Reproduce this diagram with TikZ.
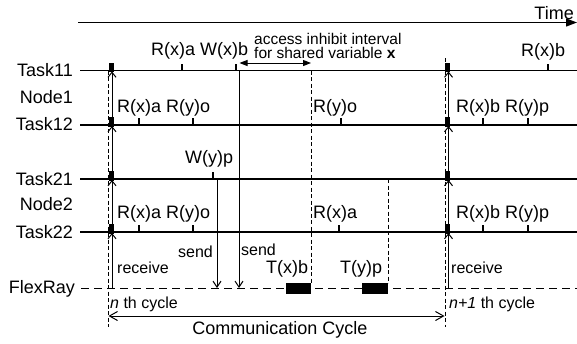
\documentclass[tikz,border=0pt]{standalone}
\usepackage{fontspec}
\setmainfont{Liberation Sans}
\usetikzlibrary{arrows.meta}
\begin{document}
\begin{tikzpicture}[x=1pt,y=-1pt,
  tline/.style={line width=1.6pt},
  tickmark/.style={line width=1.6pt},
  lblbig/.style={font=\fontsize{18}{20}\selectfont, inner sep=0pt},
  lblsmall/.style={font=\fontsize{16}{18}\selectfont, inner sep=0pt},
  vdashed/.style={line width=0.7pt, dash pattern=on 4pt off 2.5pt},
  recv/.style={line width=1pt, -{Straight Barb[length=5pt,width=8pt]}},
  sendarr/.style={line width=1pt, -{Straight Barb[length=6pt,width=8pt]}},
  blk/.style={fill=black}
]
\useasboundingbox (0,0) rectangle (577,343);

% ---------- time axis ----------
\coordinate (ta) at (78,22.5);
\coordinate (tb) at (577,22.5);
\draw[line width=1.3pt,-{Triangle[length=11pt,width=8pt]}] (ta) -- (tb);
\node[lblbig,anchor=base east] (time) at (574,19) {Time};

% ---------- row labels ----------
\node[lblbig,anchor=base east] (lt11) at (73,76) {Task11};
\node[lblbig,anchor=base east] (ln1)  at (73,103) {Node1};
\node[lblbig,anchor=base east] (lt12) at (73,130.5) {Task12};
\node[lblbig,anchor=base east] (lt21) at (73,185) {Task21};
\node[lblbig,anchor=base east] (ln2)  at (73,210) {Node2};
\node[lblbig,anchor=base east] (lt22) at (73,238) {Task22};
\node[lblbig,anchor=base east] (lfr)  at (75,293.5) {FlexRay};

% ---------- horizontal lines ----------
\foreach \n/\y in {a/70.5,b/125,c/179,d/232}{
  \coordinate (h\n0) at (80,\y);
  \coordinate (h\n1) at (577,\y);
  \draw[tline] (h\n0) -- (h\n1);
}
\coordinate (fr0) at (81,288.5);
\coordinate (fr1) at (577,288.5);
\draw[line width=1.6pt, dash pattern=on 8pt off 5pt] (fr0) -- (fr1);

% ---------- cycle boundaries (dashed) ----------
\coordinate (c1t) at (108,70.5);  \coordinate (c1b) at (108,327);
\coordinate (c2t) at (445,58);    \coordinate (c2b) at (445,327);
\draw[vdashed] (c1t) -- (c1b);
\draw[vdashed] (c2t) -- (c2b);

% ---------- receive arrows ----------
\foreach \x/\k in {112/l,448.5/r}{
  \coordinate (\k0) at (\x,288.5);
  \coordinate (\k1) at (\x,233);
  \coordinate (\k2) at (\x,232);
  \coordinate (\k3) at (\x,180);
  \coordinate (\k4) at (\x,179);
  \coordinate (\k5) at (\x,126);
  \coordinate (\k6) at (\x,125);
  \coordinate (\k7) at (\x,71.5);
  \draw[recv] (\k0) -- (\k1);
  \draw[recv] (\k2) -- (\k3);
  \draw[recv] (\k4) -- (\k5);
  \draw[recv] (\k6) -- (\k7);
}
% black markers on task lines
\foreach \y in {70.5,125,179,232}{
  \fill[blk] (108.5,\y-8) rectangle (114,\y+1.5);
  \fill[blk] (444.5,\y-8) rectangle (450,\y+1.5);
}

% ---------- ticks ----------
\foreach \x/\y in {182/70.5,236/70.5,548/70.5,
                   139/125,193/125,341/125,483/125,528/125,
                   213/179,
                   139/232,193/232,339/232,483/232,528/232}{
  \draw[tickmark] (\x,\y) -- (\x,\y-7);
}

% ---------- send arrows ----------
\coordinate (s1t) at (217,179);   \coordinate (s1b) at (217,288);
\coordinate (s2t) at (239,70.5);  \coordinate (s2b) at (239,288);
\draw[sendarr] (s1t) -- (s1b);
\draw[sendarr] (s2t) -- (s2b);

% ---------- access inhibit interval ----------
\coordinate (ai0) at (239.5,63);
\coordinate (ai1) at (311,63);
\draw[line width=1pt,{Triangle[length=8pt,width=6pt]}-{Triangle[length=8pt,width=6pt]}] (ai0) -- (ai1);
\node[font=\fontsize{15.5}{14.5}\selectfont, inner sep=0pt, align=left, anchor=base west] (acc) at (254,58.5)
  {access inhibit interval\\for shared variable \textbf{x}};

% ---------- transmit slots ----------
\coordinate (tx1t) at (311,70.5);  \coordinate (tx1b) at (311,283);
\coordinate (tx2t) at (388,179);   \coordinate (tx2b) at (388,283);
\draw[vdashed] (tx1t) -- (tx1b);
\draw[vdashed] (tx2t) -- (tx2b);
\fill[blk] (286,282.5) rectangle (311,293.5);
\fill[blk] (362,282.5) rectangle (388,293.5);

% ---------- event labels ----------
\node[lblbig,anchor=base west] (e1) at (151,55.5) {R(x)a W(x)b};
\node[lblbig,anchor=base west] (e2) at (521,56) {R(x)b};
\node[lblbig,anchor=base west] (e3) at (117,112) {R(x)a R(y)o};
\node[lblbig,anchor=base west] (e4) at (313,112) {R(y)o};
\node[lblbig,anchor=base west] (e5) at (456,112) {R(x)b R(y)p};
\node[lblbig,anchor=base west] (e6) at (185,163.5) {W(y)p};
\node[lblbig,anchor=base west] (e7) at (117,218) {R(x)a R(y)o};
\node[lblbig,anchor=base west] (e8) at (313,218) {R(x)a};
\node[lblbig,anchor=base west] (e9) at (456,218) {R(x)b R(y)p};
\node[lblbig,anchor=base west] (tx) at (266,273) {T(x)b};
\node[lblbig,anchor=base west] (ty) at (340,273) {T(y)p};

\node[lblsmall,anchor=base west] (rc1) at (117,273) {receive};
\node[lblsmall,anchor=base west] (rc2) at (451,273) {receive};
\node[lblsmall,anchor=base west] (sd1) at (178,257) {send};
\node[lblsmall,anchor=base west] (sd2) at (241,255) {send};
\node[lblsmall,anchor=base west] (cy1) at (110,308) {\textit{n} th cycle};
\node[lblsmall,anchor=base west] (cy2) at (449,308) {\textit{n+1} th cycle};

% ---------- communication cycle ----------
\coordinate (cc0) at (108.5,316);
\coordinate (cc1) at (444.5,316);
\draw[line width=1pt,{Straight Barb[length=8pt,width=9pt]}-{Straight Barb[length=8pt,width=9pt]}] (cc0) -- (cc1);
\node[lblbig,anchor=base] (cc) at (280,334.5) {Communication Cycle};
\end{tikzpicture}
\end{document}
